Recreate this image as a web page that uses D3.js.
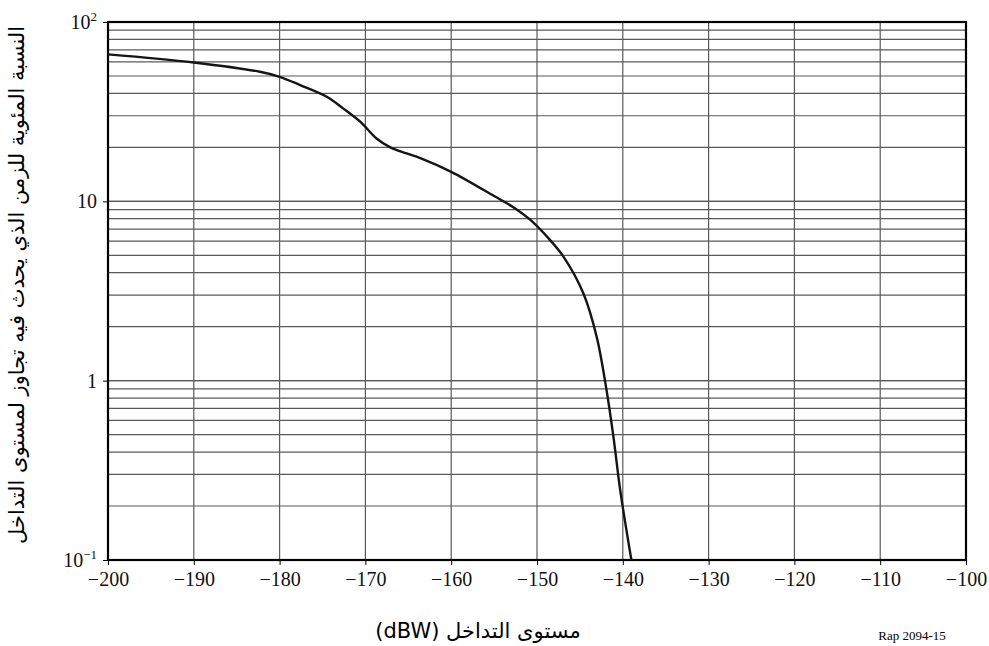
<!DOCTYPE html>
<html>
<head>
<meta charset="utf-8">
<script src="https://cdn.jsdelivr.net/npm/d3@7"></script>
<style>
  body { margin: 0; background: #fff; }
  svg { display: block; font-family: "Liberation Serif", "DejaVu Serif", serif; }
  .grid line { stroke: #5a5a5a; stroke-width: 1.2; }
  .axis path, .axis line { stroke: #000; }
  .axis text { font-size: 20px; fill: #111; font-family: "Liberation Serif", serif; }
</style>
</head>
<body>
<svg id="chart" width="989" height="646"></svg>
<script>
// interference level (dBW) vs percentage of time exceeded
var levels = [-200, -190, -182.3, -180, -177.6, -174.5, -172.6, -170.6, -168.7, -167.1, -165.2, -163.6,
  -160, -155, -152.5, -150.8, -148.5, -146.9, -144.6, -143.05, -141.96, -141.1, -140.3, -139];
var percent = [66, 59.5, 52.8, 49.5, 44.5, 38.3, 33, 27.8, 22.4, 20, 18.5, 17.4,
  14.6, 10.7, 9.1, 7.9, 6.1, 4.9, 3.07, 1.76, 0.925, 0.49, 0.245, 0.1];

var xTicks = [-200, -190, -180, -170, -160, -150, -140, -130, -120, -110, -100];
var yTicks = [0.1, 1, 10, 100];
var yTickLabels = [["10", "\u22121"], ["1", ""], ["10", ""], ["10", "2"]];

var xTitle = "مستوى التداخل (dBW)";
var yTitle = "النسبة المئوية للزمن الذي يحدث فيه تجاوز لمستوى التداخل";
var figRef = "Rap 2094-15";

var margin = {left: 108, top: 22, right: 23, bottom: 86};
var width = 989, height = 646;

var svg = d3.select("#chart");

var x = d3.scaleLinear()
  .domain([-200, -100])
  .range([margin.left, width - margin.right]);

var y = d3.scaleLog()
  .domain([0.1, 100])
  .range([height - margin.bottom, margin.top]);

// minor grid: 1..9 of each decade
var hLines = [];
[0.1, 1, 10].forEach(function (d) {
  for (var k = 1; k <= 10; k++) hLines.push(d * k);
});

var grid = svg.append("g").attr("class", "grid");

grid.selectAll(".h")
  .data(hLines)
  .enter().append("line")
  .attr("x1", x.range()[0])
  .attr("x2", x.range()[1])
  .attr("y1", d => y(d))
  .attr("y2", d => y(d));

grid.selectAll(".v")
  .data(xTicks)
  .enter().append("line")
  .attr("x1", d => x(d))
  .attr("x2", d => x(d))
  .attr("y1", y.range()[0])
  .attr("y2", y.range()[1]);

// frame
svg.append("rect")
  .attr("x", x.range()[0])
  .attr("y", y.range()[1])
  .attr("width", x.range()[1] - x.range()[0])
  .attr("height", y.range()[0] - y.range()[1])
  .attr("fill", "none")
  .attr("stroke", "#000")
  .attr("stroke-width", 2.2);

var xAxis = svg.append("g")
  .attr("class", "axis")
  .attr("transform", "translate(0," + y.range()[0] + ")")
  .call(d3.axisBottom(x)
    .tickValues(xTicks)
    .tickSize(5)
    .tickSizeOuter(0)
    .tickPadding(7)
    .tickFormat(d => String(d).replace("-", "\u2212")));
xAxis.select(".domain").remove();
xAxis.attr("font-family", null).attr("font-size", null);

var yAxis = svg.append("g")
  .attr("class", "axis")
  .attr("transform", "translate(" + x.range()[0] + ",0)")
  .call(d3.axisLeft(y)
    .tickValues(yTicks)
    .tickSize(5)
    .tickSizeOuter(0)
    .tickFormat(""));
yAxis.select(".domain").remove();
yAxis.attr("font-family", null).attr("font-size", null);

yAxis.selectAll(".tick text")
  .attr("x", -11)
  .attr("dy", "0.32em")
  .style("text-anchor", "end")
  .each(function (d, i) {
    var lab = yTickLabels[i];
    var t = d3.select(this);
    t.append("tspan").text(lab[0]);
    if (lab[1]) {
      t.append("tspan")
        .attr("dy", "-0.6em")
        .style("font-size", "13px")
        .text(lab[1]);
    }
  });

// curve
var line = d3.line()
  .x((d, i) => x(levels[i]))
  .y(d => y(d))
  .curve(d3.curveCatmullRom.alpha(0.5));

svg.append("path")
  .datum(percent)
  .attr("fill", "none")
  .attr("stroke", "#151515")
  .attr("stroke-width", 2.4)
  .attr("stroke-linejoin", "round")
  .attr("d", line);

// titles
svg.append("text")
  .attr("x", 478)
  .attr("y", 638)
  .attr("text-anchor", "middle")
  .style("font-size", "21px")
  .style("font-family", "'DejaVu Sans', 'Liberation Serif', serif")
  .attr("direction", "rtl")
  .text(xTitle);

svg.append("text")
  .attr("transform", "translate(24,285) rotate(-90)")
  .attr("text-anchor", "middle")
  .style("font-size", "21px")
  .style("font-family", "'DejaVu Sans', serif")
  .attr("direction", "rtl")
  .text(yTitle);

svg.append("text")
  .attr("x", 912)
  .attr("y", 640)
  .attr("text-anchor", "middle")
  .style("font-size", "13px")
  .text(figRef);
</script>
</body>
</html>
